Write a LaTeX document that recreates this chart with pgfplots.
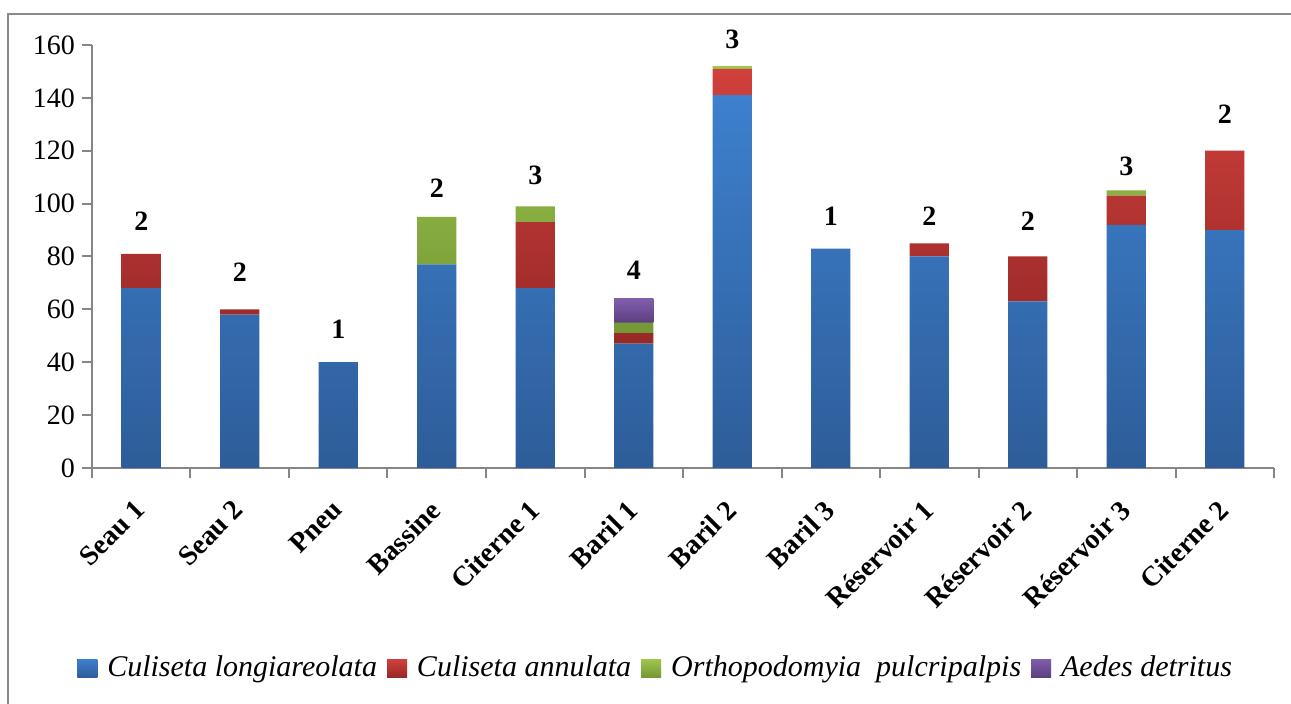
\documentclass[border=0pt]{standalone}
\usepackage{fontspec}
\setmainfont{Liberation Serif}
\usepackage{pgfplots}
\pgfplotsset{compat=1.18}
\usepackage{pgfplotstable}

% bar shades (lighter on top, darker at the base)
\definecolor{bluetop}{RGB}{61,128,206}
\definecolor{bluebot}{RGB}{46,93,153}
\definecolor{redtop}{RGB}{209,64,61}
\definecolor{redbot}{RGB}{152,41,39}
\definecolor{greentop}{RGB}{158,199,77}
\definecolor{greenbot}{RGB}{117,152,54}
\definecolor{purpletop}{RGB}{129,94,171}
\definecolor{purplebot}{RGB}{92,63,128}
\definecolor{axisgray}{RGB}{134,134,134}
\definecolor{framegray}{RGB}{138,138,138}

% larvae collected per breeding site and species
\pgfplotstableread{
x blue red green purple
0  68 13  0 0
1  58  2  0 0
2  40  0  0 0
3  77  0 18 0
4  68 25  6 0
5  47  4  4 9
6 141 10  1 0
7  83  0  0 0
8  80  5  0 0
9  63 17  0 0
10 92 11  2 0
11 90 30  0 0
}\larves

% number of species per site, with the height at which it is written
\pgfplotstableread{
x y n
0  93.4 2
1  73.9 2
2  52.4 1
3 106.0 2
4 110.5 3
5  74.8 4
6 162.2 3
7  95.3 1
8  95.3 2
9  93.4 2
10 114.0 3
11 133.8 2
}\especes

\newcommand{\fs}{\fontsize{14}{16.8}\selectfont}
\newcommand{\fl}{\fontsize{15}{18}\selectfont}

\begin{document}
\begin{tikzpicture}
\useasboundingbox (-46pt,-118pt) rectangle (599.5pt,234pt);
\draw[framegray, line width=1pt] (-42pt,-120pt) -- (-42pt,227pt) -- (602pt,227pt);

\begin{axis}[
  at={(0,0)}, anchor=south west,
  scale only axis, width=591pt, height=211.5pt,
  ybar stacked, bar width=0.4,
  xmin=-0.5, xmax=11.5, ymin=0, ymax=160,
  axis x line*=bottom, axis y line*=left,
  axis line style={draw=axisgray, line width=1pt, -},
  tick align=outside,
  major tick length=5pt,
  tick style={draw=axisgray, line width=1pt},
  ytick={0,20,...,160},
  yticklabel style={font=\fs, text=black},
  /pgf/number format/assume math mode=true,
  xtick={-0.5,0.5,...,11.5},
  xticklabels={},
  extra x ticks={0,1,...,11},
  extra x tick labels={Seau 1,Seau 2,Pneu,Bassine,Citerne 1,Baril 1,Baril 2,Baril 3,Réservoir 1,Réservoir 2,Réservoir 3,Citerne 2},
  extra x tick style={major tick length=0pt,
    xticklabel style={xshift=-4pt, yshift=-15pt, rotate=45, anchor=north east,
      inner sep=0pt, font=\fs\bfseries, text=black}},
  legend columns=4,
  legend style={draw=none, fill=none, at={(0.476,-0.473)}, anchor=center,
    font=\fl\itshape, inner sep=0pt,
    /tikz/every odd column/.append style={column sep=5pt},
    /tikz/every even column/.append style={column sep=5pt},
    nodes={inner sep=0pt}},
  legend image code/.code={\fill[#1] (0pt,-4.5pt) rectangle (10pt,4.5pt);},
]
\addplot[draw=none, top color=bluetop, bottom color=bluebot]
  table[x=x, y=blue] {\larves};
\addlegendentry{Culiseta longiareolata}
\addplot[draw=none, top color=redtop, bottom color=redbot]
  table[x=x, y=red] {\larves};
\addlegendentry{Culiseta annulata}
\addplot[draw=none, top color=greentop, bottom color=greenbot]
  table[x=x, y=green] {\larves};
\addlegendentry{Orthopodomyia~ pulcripalpis}
\addplot[draw=none, top color=purpletop, bottom color=purplebot]
  table[x=x, y=purple] {\larves};
\addlegendentry{Aedes detritus}
\end{axis}

% species counts written above the bars
\begin{axis}[
  at={(0,0)}, anchor=south west,
  scale only axis, width=591pt, height=211.5pt,
  xmin=-0.5, xmax=11.5, ymin=0, ymax=160,
  hide axis, clip=false,
]
\addplot[only marks, mark=none,
  nodes near coords, point meta=explicit symbolic,
  every node near coord/.append style={anchor=center, font=\fs\bfseries, text=black}]
  table[x=x, y=y, meta=n] {\especes};
\end{axis}
\end{tikzpicture}
\end{document}
